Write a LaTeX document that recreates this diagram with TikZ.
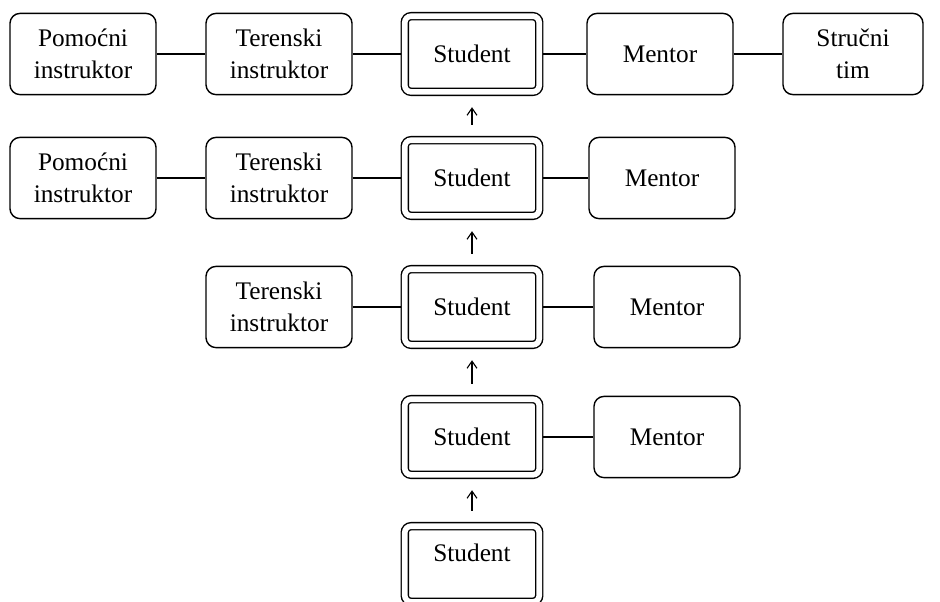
\documentclass[tikz,border=0pt]{standalone}
\usepackage{fontspec}
\setmainfont{Liberation Serif}
\usetikzlibrary{arrows.meta}

\begin{document}
\begin{tikzpicture}[
    x=0.025cm, y=-0.025cm,
    box/.style={rectangle, rounded corners=0.25cm, minimum width=3.65cm, minimum height=2.03cm, draw, line width=1pt, align=center, font=\fontsize{18}{22.7}\selectfont},
    student/.style={rectangle, rounded corners=4.5pt, minimum width=3.36cm, minimum height=1.89cm, draw, line width=1pt, double, double distance=4pt, outer sep=3pt, font=\fontsize{18}{22.7}\selectfont},
    link/.style={line width=1pt},
    climb/.style={line width=0.8pt, -{Straight Barb[length=5pt, width=7pt]}, shorten <=0.28cm, shorten >=0.28cm}
]
\clip (0,0) rectangle (940,601);

% first row
\node[box] (pom1) at (83,54) {Pomoćni\\instruktor};
\node[box] (ter1) at (279,54) {Terenski\\instruktor};
\node[student] (stu1) at (472,54) {Student};
\node[box] (men1) at (660,54) {Mentor};
\node[box, minimum width=3.5cm] (str1) at (853,54) {Stručni\\tim};

% second row
\node[box] (pom2) at (83,178) {Pomoćni\\instruktor};
\node[box] (ter2) at (279,178) {Terenski\\instruktor};
\node[student] (stu2) at (472,178) {Student};
\node[box] (men2) at (662,178) {Mentor};

% third row
\node[box] (ter3) at (279,307) {Terenski\\instruktor};
\node[student] (stu3) at (472,307) {Student};
\node[box] (men3) at (667,307) {Mentor};

% fourth row
\node[student] (stu4) at (472,437) {Student};
\node[box] (men4) at (667,437) {Mentor};

% last row
\node[student] (stu5) at (472,564) {\raisebox{0.55cm}{Student}};

\draw[link] (pom1) -- (ter1);
\draw[link] (ter1) -- (stu1);
\draw[link] (stu1) -- (men1);
\draw[link] (men1) -- (str1);
\draw[link] (pom2) -- (ter2);
\draw[link] (ter2) -- (stu2);
\draw[link] (stu2) -- (men2);
\draw[link] (ter3) -- (stu3);
\draw[link] (stu3) -- (men3);
\draw[link] (stu4) -- (men4);

\draw[climb] (stu2) -- (stu1);
\draw[climb] (stu3) -- (stu2);
\draw[climb] (stu4) -- (stu3);
\draw[climb] (stu5) -- (stu4);
\end{tikzpicture}
\end{document}
